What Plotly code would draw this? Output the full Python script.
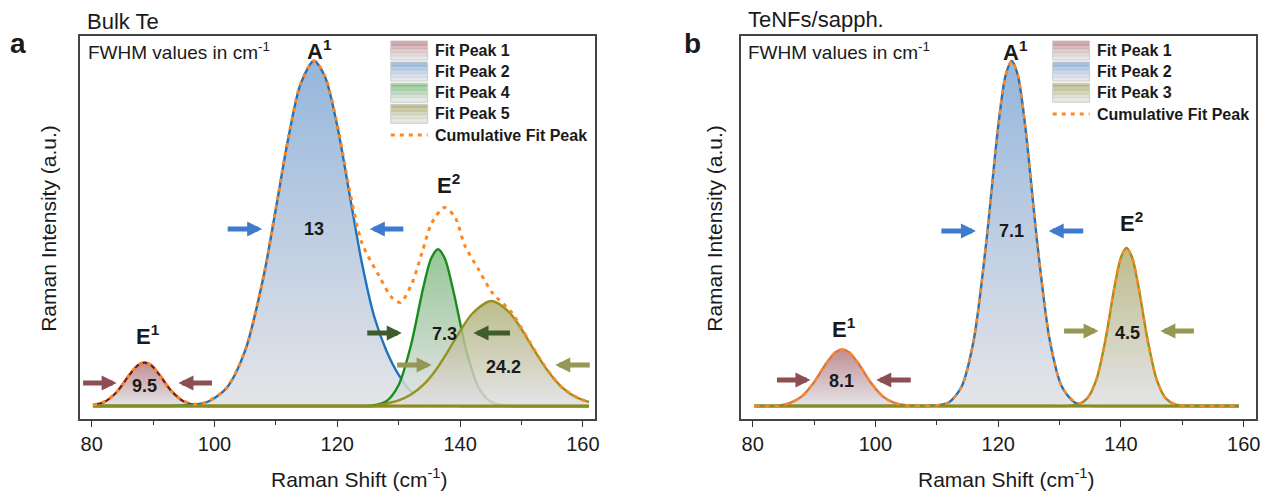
import plotly.graph_objects as go

W, H = 1280, 501
FONT = "Liberation Sans, Arial, sans-serif"
TXT = "#1a1a1a"

# ---------------- data: panel a (Bulk Te) ----------------
a_p1_x = [80.2, 82, 84, 86, 87.5, 88.6, 89.7, 91, 93, 95, 97, 99, 103, 161]
a_p1_y = [0.25, 1.1, 3.9, 8.7, 11.8, 12.6, 11.8, 9.1, 4.3, 1.3, 0.25, 0, 0, 0]
a_p2_x = [80.2, 90, 93, 96, 99, 102, 105, 108, 110, 112, 114, 116.2, 118, 120, 122,
          124, 126, 128, 130, 132, 134, 137, 140, 145, 161]
a_p2_y = [0, 0, 0, 0.3, 1.3, 5.3, 16.1, 37.6, 57.2, 77.4, 93.2, 100, 95.4, 81.1, 61.3,
          41.5, 26, 16, 9, 4.2, 1.8, 0.4, 0, 0, 0]
a_p4_x = [80.2, 120, 124, 126, 128, 130, 132, 134, 135.3, 136.4, 137.5, 139, 141, 143,
          145, 147, 149, 153, 161]
a_p4_y = [0, 0, 0, 0.2, 1.4, 6.1, 17.6, 34.3, 42.8, 45.4, 42.8, 32.6, 16.2, 5.4,
          1.2, 0.2, 0, 0, 0]
a_p5_x = [80.2, 122, 126, 128, 130, 132, 134, 136, 138, 140, 142, 145.1, 148, 150, 152,
          154, 156, 158, 160, 161]
a_p5_y = [0, 0, 0, 0.7, 1.6, 3.3, 6.1, 10.3, 15.8, 21.7, 26.8, 30.4, 27.2, 22.3, 16.4,
          10.9, 6.5, 3.5, 1.7, 1.2]
a_cum_x = [80.2, 82, 84, 86, 87.5, 88.6, 89.7, 91, 93, 95, 97, 99, 102, 105, 108,
           110, 112, 114, 116.2, 118, 120, 122, 124, 126.8, 128.9, 130.3, 132.2,
           133.8, 135.4, 137.5, 139.2, 140.8, 143, 145.2, 148.4, 151, 153.8,
           156.5, 159.2, 160.8]
a_cum_y = [0.3, 1.2, 3.9, 8.7, 11.8, 12.6, 11.8, 9.1, 4.3, 1.4, 0.5, 1.4, 5.3, 16.1,
           37.6, 57.2, 77.4, 93.2, 100, 95.5, 81.5, 62.5, 47.3, 37.7, 31.4, 30,
           35.7, 44.4, 53.1, 57.5, 54.6, 46.4, 39.6, 32.9, 27.1, 19.5, 11.5, 5.5,
           2.3, 1.3]
a_base_x = [80.2, 161]
a_base_y = [0, 0]
a_names = ["Fit Peak 1", "Fit Peak 2", "Fit Peak 4", "Fit Peak 5"]
a_fwhm = ["9.5", "13", "7.3", "24.2"]

# ---------------- data: panel b (TeNFs/sapph.) ----------------
b_p1_x = [80.3, 82, 84, 86, 88, 90, 92, 93.5, 94.6, 95.7, 97.2, 99.2, 101.2, 103.2,
          105, 107, 111, 159.2]
b_p1_y = [0, 0, 0, 0.8, 2.8, 6.9, 12.4, 15.6, 16.4, 15.6, 12.4, 6.9, 2.8, 0.8,
          0.2, 0, 0, 0]
b_p2_x = [80.3, 104, 108, 110, 112, 114, 116, 118, 120, 121.2, 122.2, 123.2, 124.4,
          126.4, 128.4, 130.4, 132.4, 134.4, 136.5, 140, 159.2]
b_p2_y = [0, 0, 0, 0.2, 1.1, 5.5, 19, 46.6, 81.1, 95.8, 100, 95.8, 81.1, 46.6, 19,
          5.5, 1.1, 0.2, 0, 0, 0]
b_p3_x = [80.3, 127, 131, 133, 134.5, 136, 137.5, 139, 140, 140.9, 141.8, 142.8, 144.3,
          145.8, 147.3, 148.8, 150, 152, 155, 159.2]
b_p3_y = [0, 0, 0, 0.45, 2.2, 7.7, 19.5, 35.1, 43.1, 45.8, 43.1, 35.1, 19.5, 7.7,
          2.2, 0.45, 0.1, 0, 0, 0]
b_cum_x = [80.3, 84, 86, 88, 90, 92, 93.5, 94.6, 95.7, 97.2, 99.2, 101.2, 103.2,
           105, 108, 110, 112, 114, 116, 118, 120, 121.2, 122.2, 123.2, 124.4,
           126.4, 128.4, 130.4, 132.4, 133.3, 134.5, 136, 137.5, 139, 140, 140.9,
           141.8, 142.8, 144.3, 145.8, 147.3, 148.8, 151, 155, 159.2]
b_cum_y = [0, 0, 0.8, 2.8, 6.9, 12.4, 15.6, 16.4, 15.6, 12.4, 6.9, 2.8, 0.8, 0.2,
           0, 0.2, 1.1, 5.5, 19, 46.6, 81.1, 95.8, 100, 95.8, 81.1, 46.6, 19, 5.5,
           1.3, 0.8, 2.3, 7.7, 19.5, 35.1, 43.1, 45.8, 43.1, 35.1, 19.5, 7.7, 2.2,
           0.45, 0, 0, 0]
b_base_x = [80.3, 159.2]
b_base_y = [0, 0]
b_names = ["Fit Peak 1", "Fit Peak 2", "Fit Peak 3"]
b_fwhm = ["8.1", "7.1", "4.5"]

x_ticks = [80, 100, 120, 140, 160]
cum_name = "Cumulative Fit Peak"

# ---------------- styles ----------------
GRAY = "rgba(224,224,228,0.85)"
MAROON = dict(line="rgb(125,30,30)", top="rgba(182,122,128,0.85)", box="rgb(192,145,150)", arrow="rgb(140,78,82)")
BLUE = dict(line="rgb(28,115,192)", top="rgba(135,172,215,0.88)", box="rgb(140,176,216)", arrow="rgb(62,122,205)")
GREEN = dict(line="rgb(25,140,30)", top="rgba(125,185,125,0.8)", box="rgb(135,192,135)", arrow="rgb(62,92,44)")
OLIVE = dict(line="rgb(150,145,35)", top="rgba(172,172,112,0.8)", box="rgb(180,180,128)", arrow="rgb(150,150,85)")
ORANGE = "rgb(255,135,30)"

fig = go.Figure()


def peak(x, y, sty, xa, ya, lc=None):
    fig.add_trace(go.Scatter(
        x=x, y=y, xaxis=xa, yaxis=ya, mode="lines",
        line=dict(color=lc or sty["line"], width=2.4, shape="spline", smoothing=0.8),
        fill="tozeroy",
        fillgradient=dict(type="vertical", colorscale=[[0, GRAY], [1, sty["top"]]]),
        showlegend=False, hoverinfo="skip"))


def baseline(x, y, xa, ya):
    fig.add_trace(go.Scatter(x=x, y=y, xaxis=xa, yaxis=ya, mode="lines",
                             line=dict(color="rgb(140,140,30)", width=3),
                             showlegend=False, hoverinfo="skip"))


peak(a_p1_x, a_p1_y, MAROON, "x", "y")
peak(a_p2_x, a_p2_y, BLUE, "x", "y")
peak(a_p4_x, a_p4_y, GREEN, "x", "y")
peak(a_p5_x, a_p5_y, OLIVE, "x", "y")
baseline(a_base_x, a_base_y, "x", "y")
fig.add_trace(go.Scatter(x=a_cum_x, y=a_cum_y, xaxis="x", yaxis="y", mode="lines",
                         line=dict(color=ORANGE, width=3, dash="4px,5px", shape="spline", smoothing=0.8),
                         showlegend=False, hoverinfo="skip"))

peak(b_p1_x, b_p1_y, MAROON, "x2", "y2", lc="rgb(205,120,90)")
peak(b_p2_x, b_p2_y, BLUE, "x2", "y2")
peak(b_p3_x, b_p3_y, OLIVE, "x2", "y2")
baseline(b_base_x, b_base_y, "x2", "y2")
fig.add_trace(go.Scatter(x=b_cum_x, y=b_cum_y, xaxis="x2", yaxis="y2", mode="lines",
                         line=dict(color=ORANGE, width=2.4, dash="5px,5px", shape="spline", smoothing=0.8),
                         showlegend=False, hoverinfo="skip"))

# ---------------- axes ----------------
XR = [78.05, 162.0]
YR = [-3.77, 107.2]
ydom = [1 - 419 / H, 1 - 36 / H]


def xax(dom):
    return dict(domain=dom, range=XR, tickvals=x_ticks, ticks="outside", ticklen=6,
                tickwidth=1.3, tickcolor="#333", showline=True, mirror=True,
                linecolor="#444", linewidth=1.5, showgrid=False, zeroline=False,
                tickfont=dict(size=20, color=TXT, family=FONT),
                minor=dict(ticks="outside", ticklen=4, tickwidth=1.3, tickcolor="#333",
                           dtick=10, tick0=80, showgrid=False))


def yax(anchor):
    return dict(domain=ydom, range=YR, showticklabels=False, ticks="", showline=True,
                mirror=True, linecolor="#444", linewidth=1.5, showgrid=False,
                zeroline=False, anchor=anchor)


fig.update_layout(
    width=W, height=H, margin=dict(l=0, r=0, t=0, b=0),
    paper_bgcolor="white", plot_bgcolor="white",
    font=dict(family=FONT, color=TXT),
    xaxis=dict(xax([80 / W, 597 / W]), anchor="y"),
    yaxis=yax("x"),
    xaxis2=dict(xax([743 / W, 1260 / W]), anchor="y2"),
    yaxis2=yax("x2"),
    showlegend=False,
)

ann = []
shapes = []


def P(px, py):
    return px / W, 1 - py / H


def text(px, py, s, size, bold=False, xanchor="center", angle=0):
    x, y = P(px, py)
    ann.append(dict(x=x, y=y, xref="paper", yref="paper", text=("<b>%s</b>" % s) if bold else s,
                    showarrow=False, xanchor=xanchor, yanchor="middle", textangle=angle,
                    font=dict(size=size, color=TXT, family=FONT)))


def arrow(head, tail, py, color):
    x, y = P(head, py)
    ann.append(dict(x=x, y=y, xref="paper", yref="paper", text="", showarrow=True,
                    ax=tail - head, ay=0, arrowhead=2, arrowsize=0.6, arrowwidth=5,
                    arrowcolor=color, standoff=0, startstandoff=0,
                    font=dict(size=10)))


def mix(c1, c2, t):
    a = [int(v) for v in c1[c1.index("(") + 1:-1].split(",")]
    b = [int(v) for v in c2[c2.index("(") + 1:-1].split(",")]
    return "rgb(%d,%d,%d)" % tuple(round(a[i] + (b[i] - a[i]) * t) for i in range(3))


def legend_box(x0, x1, y0, y1, top):
    n = 14
    for i in range(n):
        ya, yb = y0 + (y1 - y0) * i / n, y0 + (y1 - y0) * (i + 1) / n
        c = mix(top, "rgb(230,230,232)", i / (n - 1))
        shapes.append(dict(type="rect", xref="paper", yref="paper",
                           x0=x0 / W, x1=x1 / W, y0=1 - yb / H, y1=1 - ya / H,
                           fillcolor=c, line=dict(width=0), layer="above"))
    shapes.append(dict(type="rect", xref="paper", yref="paper", x0=x0 / W, x1=x1 / W,
                       y0=1 - y1 / H, y1=1 - y0 / H, fillcolor="rgba(0,0,0,0)",
                       line=dict(color="rgb(205,205,205)", width=1), layer="above"))


def legend(bx0, rows, names, tops, cum_py):
    for (yc, name, top) in zip(rows, names, tops):
        legend_box(bx0, bx0 + 37, yc - 9.5, yc + 9.5, top)
        text(bx0 + 42, yc, name, 16, bold=True, xanchor="left")
    shapes.append(dict(type="line", xref="paper", yref="paper", x0=bx0 / W, x1=(bx0 + 37) / W,
                       y0=1 - cum_py / H, y1=1 - cum_py / H,
                       line=dict(color=ORANGE, width=3, dash="4px,5px"), layer="above"))
    text(bx0 + 42, cum_py, cum_name, 16, bold=True, xanchor="left")


# panel labels and titles
text(18, 43, "a", 28, bold=True)
text(695, 43, "b", 28, bold=True)
text(85, 21, "Bulk Te", 22, xanchor="left")
text(748, 20, "TeNFs/sapph.", 22, xanchor="left")
text(86, 51, "FWHM values in cm<sup>-1</sup>", 19, xanchor="left")
text(748, 51, "FWHM values in cm<sup>-1</sup>", 19, xanchor="left")
text(360, 478, "Raman Shift (cm<sup>-1</sup>)", 21)
text(1009, 478, "Raman Shift (cm<sup>-1</sup>)", 21)
text(48, 228, "Raman Intensity (a.u.)", 21, angle=-90)
text(716, 228, "Raman Intensity (a.u.)", 21, angle=-90)

# panel a labels
text(320, 50, "A<sup>1</sup>", 22, bold=True)
text(450, 184, "E<sup>2</sup>", 22, bold=True)
text(148, 335, "E<sup>1</sup>", 22, bold=True)
text(145, 386, a_fwhm[0], 18, bold=True)
text(315, 229, a_fwhm[1], 18, bold=True)
text(446, 334, a_fwhm[2], 18, bold=True)
text(505, 367, a_fwhm[3], 18, bold=True)
arrow(117, 82, 383, MAROON["arrow"])
arrow(179, 214, 383, MAROON["arrow"])
arrow(263, 227, 229, BLUE["arrow"])
arrow(371, 406, 229, BLUE["arrow"])
arrow(403, 367, 333, GREEN["arrow"])
arrow(475, 513, 333, GREEN["arrow"])
arrow(433, 397, 365, OLIVE["arrow"])
arrow(557, 593, 365, OLIVE["arrow"])

# panel b labels
text(1019, 51, "A<sup>1</sup>", 22, bold=True)
text(1135, 222, "E<sup>2</sup>", 22, bold=True)
text(847, 328, "E<sup>1</sup>", 22, bold=True)
text(844, 381, b_fwhm[0], 18, bold=True)
text(1015, 231, b_fwhm[1], 18, bold=True)
text(1131, 333, b_fwhm[2], 18, bold=True)
arrow(813, 778, 380, MAROON["arrow"])
arrow(879, 915, 380, MAROON["arrow"])
arrow(979, 943, 231, BLUE["arrow"])
arrow(1052, 1088, 231, BLUE["arrow"])
arrow(1102, 1066, 331, OLIVE["arrow"])
arrow(1164, 1199, 331, OLIVE["arrow"])

legend(392, [50.5, 71.5, 92.7, 113.8], a_names,
       [MAROON["box"], BLUE["box"], GREEN["box"], OLIVE["box"]], 135)
legend(1056, [50.5, 71.5, 92.7], b_names,
       [MAROON["box"], BLUE["box"], OLIVE["box"]], 114)

fig.update_layout(annotations=ann, shapes=shapes)
fig.write_html("out.html")
